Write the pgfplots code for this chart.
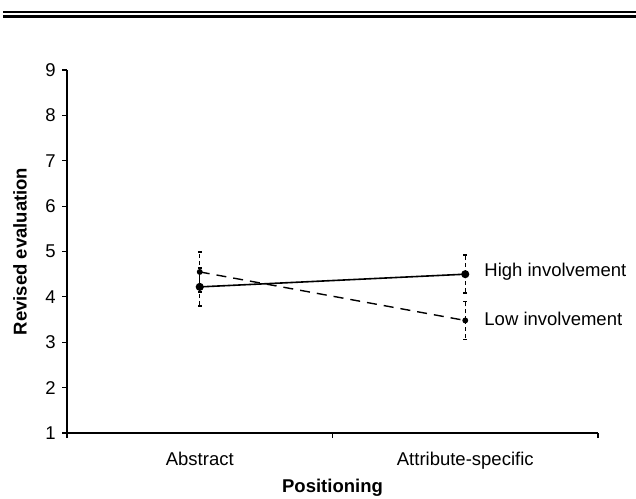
\documentclass[border=0pt]{standalone}
\usepackage{pgfplots}
\pgfplotsset{compat=1.18}
\usepackage{fontspec}
\setmainfont{Liberation Sans}
\begin{document}
\fontsize{18.5}{22}\selectfont
\begin{tikzpicture}
\useasboundingbox (0,0) rectangle (636pt,498pt);
\draw[line width=2pt] (3pt,486pt) -- (636pt,486pt);
\draw[line width=2.4pt] (3pt,481.5pt) -- (636pt,481.5pt);
\begin{axis}[
 at={(67pt,65pt)}, anchor=south west,
 scale only axis, width=531pt, height=363pt,
 xmin=0, xmax=2, ymin=1, ymax=9,
 clip=false,
 axis lines=left, axis line style={-, line width=1.2pt},
 tick align=outside, major tick length=5pt,
 tick style={line width=1.1pt, black},
 /pgf/number format/assume math mode=true,
 ytick={1,...,9},
 xtick={0,1,2}, xticklabels={},
 extra x ticks={0.5,1.5},
 extra x tick labels={Abstract,Attribute-specific},
 extra x tick style={tick style={draw=none}},
 xticklabel style={anchor=base, yshift=-27pt},
 tick label style={font=\fontsize{18.5}{22}\selectfont},
 label style={font=\fontsize{18.5}{22}\selectfont\bfseries},
 ylabel={Revised evaluation},
 ylabel style={at={(axis description cs:-0.0885,0.5)}, anchor=center},
 xlabel={Positioning},
 xlabel style={at={(axis description cs:0.5,-0.163)}, anchor=base},
]
\addplot[black, line width=1.6pt, mark=*, mark size=3.2pt,
  error bars/.cd, y dir=both, y explicit,
  error bar style={line width=1.3pt, dash pattern=on 4pt off 3pt},
  error mark options={rotate=90, line width=1.6pt, mark size=1.8pt, solid}]
  coordinates {(0.5,4.22) +- (0,0.42) (1.5,4.50) +- (0,0.42)};
\addplot[black, line width=1.4pt, dash pattern=on 10pt off 7pt, mark=*, mark size=2.2pt, mark options={solid},
  error bars/.cd, y dir=both, y explicit,
  error bar style={line width=1.3pt, dash pattern=on 4pt off 3pt},
  error mark options={rotate=90, line width=1.6pt, mark size=1.8pt, solid}]
  coordinates {(0.5,4.55) +- (0,0.44) (1.5,3.48) +- (0,0.42)};
\node[anchor=base west, inner sep=0pt, font=\fontsize{18.5}{22}\selectfont] at (axis cs:1.5,4.50) [xshift=19pt, yshift=-2pt] {High involvement};
\node[anchor=base west, inner sep=0pt, font=\fontsize{18.5}{22}\selectfont] at (axis cs:1.5,3.48) [xshift=19pt, yshift=-5pt] {Low involvement};
\end{axis}
\end{tikzpicture}
\end{document}
